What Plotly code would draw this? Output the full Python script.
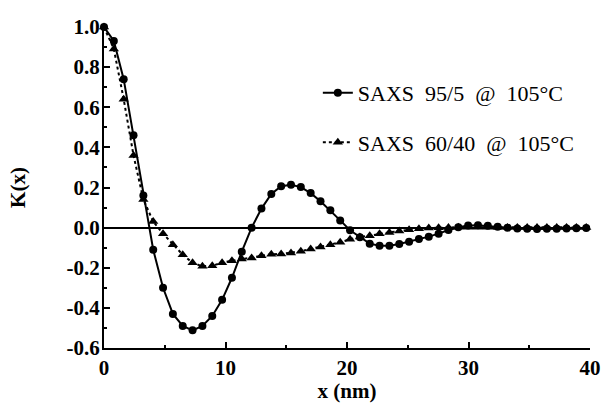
import plotly.graph_objects as go

# x positions (nm) shared by both series
x_nm = [round(0.81 * i, 2) for i in range(51)]

# SAXS 95/5 @ 105°C  (circles, solid line)
k_95_5 = [1.0, 0.93, 0.74, 0.46, 0.16, -0.11, -0.30, -0.43, -0.49, -0.512,
          -0.49, -0.44, -0.36, -0.25, -0.12, 0.0, 0.095, 0.168, 0.206, 0.214,
          0.202, 0.172, 0.131, 0.086, 0.036, -0.013, -0.048, -0.08, -0.09, -0.09,
          -0.082, -0.07, -0.057, -0.045, -0.03, -0.012, 0.002, 0.01, 0.012, 0.009,
          0.004, 0.0, -0.004, -0.006, -0.007, -0.006, -0.005, -0.004, -0.003, -0.002,
          -0.002]

# SAXS 60/40 @ 105°C  (triangles, dotted line)
k_60_40 = [1.0, 0.89, 0.64, 0.36, 0.14, 0.03, -0.03, -0.085, -0.135, -0.175,
           -0.193, -0.19, -0.175, -0.165, -0.157, -0.151, -0.14, -0.133, -0.131, -0.126,
           -0.118, -0.106, -0.096, -0.085, -0.073, -0.058, -0.047, -0.04, -0.031, -0.024,
           -0.017, -0.01, -0.005, -0.002, 0.0, 0.001, 0.002, 0.002, 0.002, 0.002,
           0.001, 0.001, 0.001, 0.001, 0.001, 0.001, 0.001, 0.001, 0.001, 0.001,
           0.001]

NB = "\u00a0"
names = ["SAXS" + NB + " 95/5" + NB + " @" + NB + " 105°C",
         "SAXS" + NB + " 60/40" + NB + " @" + NB + " 105°C"]
x_ticks = [0, 10, 20, 30, 40]
y_ticks = [-0.6, -0.4, -0.2, 0.0, 0.2, 0.4, 0.6, 0.8, 1.0]
y_ticklabels = ["-0.6", "-0.4", "-0.2", "0.0", "0.2", "0.4", "0.6", "0.8", "1.0"]

SERIF = "Liberation Serif"

fig = go.Figure()
fig.add_trace(go.Scatter(
    x=x_nm, y=k_95_5, name=names[0], mode="lines+markers", legendgroup="a",
    line=dict(color="black", width=2),
    marker=dict(symbol="circle", size=8, color="black"),
    cliponaxis=False,
))
fig.add_trace(go.Scatter(
    x=x_nm, y=k_60_40, name=names[1], mode="lines+markers", legendgroup="b",
    line=dict(color="black", width=2, dash="dot"),
    marker=dict(symbol="triangle-up", size=9, color="black"),
    cliponaxis=False,
))

fig.update_layout(
    width=611, height=403,
    margin=dict(l=104, r=21, t=27, b=55),
    paper_bgcolor="white", plot_bgcolor="white",
    font=dict(family=SERIF, color="black"),
    showlegend=True,
    legend=dict(
        x=0.44, y=0.86, xanchor="left", yanchor="top",
        traceorder="grouped", tracegroupgap=18,
        font=dict(family=SERIF, size=22, color="black"),
        bgcolor="rgba(0,0,0,0)", itemwidth=30,
    ),
    xaxis=dict(
        range=[0, 40], tickvals=x_ticks, ticktext=[str(v) for v in x_ticks],
        ticks="inside", ticklen=6, tickwidth=2, tickcolor="black",
        minor=dict(dtick=5, ticks="inside", ticklen=3, tickwidth=2, tickcolor="black"),
        showline=True, linecolor="black", linewidth=2, mirror=False,
        showgrid=False, zeroline=False, automargin=False,
        tickfont=dict(family=SERIF, size=21, color="black", weight=700),
        title=dict(text="x (nm)", font=dict(family=SERIF, size=21, weight=700), standoff=7),
    ),
    yaxis=dict(
        range=[-0.6, 1.0], tickvals=y_ticks, ticktext=y_ticklabels,
        ticks="inside", ticklen=6, tickwidth=2, tickcolor="black",
        minor=dict(dtick=0.1, ticks="inside", ticklen=3, tickwidth=2, tickcolor="black"),
        showline=True, linecolor="black", linewidth=2, mirror=False,
        showgrid=False, automargin=False, ticklabelstandoff=-2,
        zeroline=True, zerolinecolor="black", zerolinewidth=2,
        tickfont=dict(family=SERIF, size=21, color="black", weight=700),
        title=dict(text="K(x)", font=dict(family=SERIF, size=21, weight=700), standoff=35),
    ),
)

fig.write_html("out.html")
